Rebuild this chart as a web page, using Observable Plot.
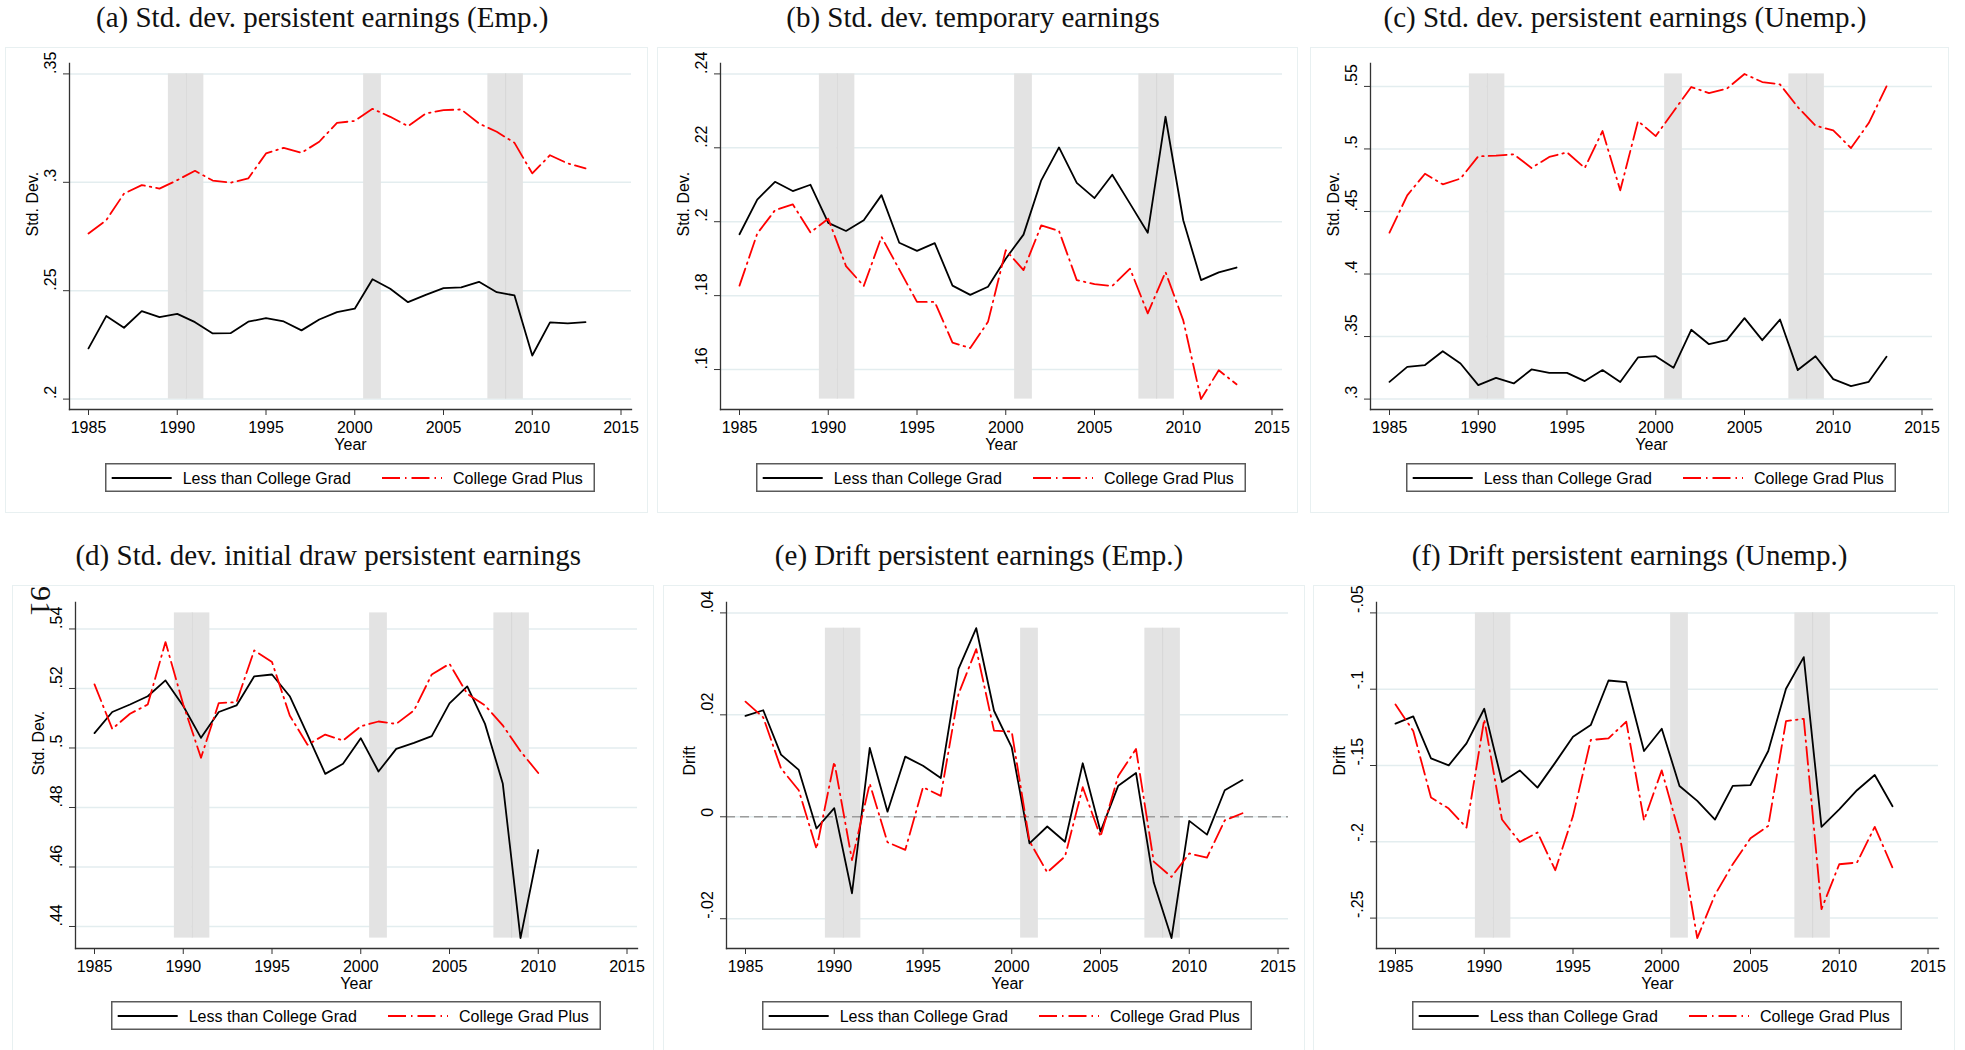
<!DOCTYPE html>
<html><head><meta charset="utf-8">
<script src="https://cdn.jsdelivr.net/npm/d3@7"></script>
<script src="https://cdn.jsdelivr.net/npm/@observablehq/plot@0.6"></script>
<style>
html,body{margin:0;padding:0;background:#fff;}
body{position:relative;width:1965px;height:1050px;overflow:hidden;font-family:"Liberation Sans",Arial,sans-serif;}
.box{position:absolute;border:1.5px solid #e8f0f1;box-sizing:border-box;background:#fff;}
.title{position:absolute;width:800px;text-align:center;font-family:"Liberation Serif","Times New Roman",serif;font-size:29px;line-height:29px;color:#111;white-space:nowrap;}
.pageno{position:absolute;font-family:"Liberation Serif","Times New Roman",serif;font-size:30px;line-height:30px;color:#111;transform-origin:center center;}
</style></head><body>
<script>
// ---- data ----
const yearsFull = [1985,1986,1987,1988,1989,1990,1991,1992,1993,1994,1995,1996,1997,1998,1999,2000,2001,2002,2003,2004,2005,2006,2007,2008,2009,2010,2011,2012,2013];
const yearsD = [1985,1986,1987,1988,1989,1990,1991,1992,1993,1994,1995,1996,1997,1998,1999,2000,2001,2002,2003,2004,2005,2006,2007,2008,2009,2010];
const recessionYears = [1990,1991,2001,2008,2009];
const xTicks = [1985,1990,1995,2000,2005,2010,2015];
const seriesNames = ["Less than College Grad","College Grad Plus"];

const aLess = [0.2234,0.2383,0.2329,0.2406,0.2378,0.2393,0.2355,0.2303,0.2304,0.2357,0.2373,0.2358,0.2317,0.2367,0.2401,0.2417,0.2553,0.2509,0.2447,0.2481,0.2512,0.2515,0.2541,0.2493,0.2478,0.2201,0.2354,0.2349,0.2355];
const aCollege = [0.2764,0.2825,0.2948,0.2987,0.2971,0.3010,0.3053,0.3008,0.2998,0.3018,0.3133,0.3159,0.3136,0.3187,0.3274,0.3283,0.3339,0.3302,0.3259,0.3317,0.3333,0.3336,0.3271,0.3233,0.3182,0.3041,0.3125,0.3087,0.3064];
const aTicks = [0.2,0.25,0.3,0.35];
const aTickLabels = [".2",".25",".3",".35"];

const bLess = [0.1966,0.2060,0.2108,0.2083,0.2100,0.1997,0.1975,0.2004,0.2072,0.1943,0.1921,0.1942,0.1827,0.1802,0.1824,0.1900,0.1965,0.2112,0.2201,0.2105,0.2064,0.2127,0.2049,0.1970,0.2284,0.2004,0.1842,0.1863,0.1876];
const bCollege = [0.1827,0.1968,0.2031,0.2047,0.1971,0.2008,0.1880,0.1826,0.1959,0.1871,0.1783,0.1783,0.1673,0.1658,0.1729,0.1923,0.1869,0.1990,0.1975,0.1842,0.1831,0.1826,0.1873,0.1752,0.1864,0.1733,0.1520,0.1598,0.1560];
const bTicks = [0.16,0.18,0.2,0.22,0.24];
const bTickLabels = [".16",".18",".2",".22",".24"];

const cLess = [0.3138,0.3258,0.3272,0.3383,0.3285,0.3112,0.3170,0.3125,0.3237,0.3210,0.3210,0.3144,0.3232,0.3136,0.3333,0.3343,0.3250,0.3554,0.3439,0.3471,0.3647,0.3471,0.3636,0.3232,0.3343,0.3160,0.3104,0.3138,0.3338];
const cCollege = [0.4331,0.4629,0.4802,0.4717,0.4763,0.4941,0.4946,0.4957,0.4848,0.4936,0.4973,0.4848,0.5143,0.4669,0.5223,0.5103,0.5300,0.5495,0.5447,0.5481,0.5599,0.5535,0.5516,0.5335,0.5186,0.5149,0.5007,0.5207,0.5500];
const cTicks = [0.3,0.35,0.4,0.45,0.5,0.55];
const cTickLabels = [".3",".35",".4",".45",".5",".55"];

const dLess = [0.5050,0.5121,0.5146,0.5174,0.5227,0.5141,0.5034,0.5121,0.5143,0.5241,0.5247,0.5174,0.5045,0.4913,0.4947,0.5033,0.4921,0.4997,0.5017,0.5040,0.5150,0.5207,0.5081,0.4881,0.4361,0.4657];
const dCollege = [0.5214,0.5064,0.5115,0.5146,0.5356,0.5146,0.4967,0.5151,0.5154,0.5328,0.5289,0.5109,0.5011,0.5045,0.5025,0.5073,0.5089,0.5081,0.5126,0.5247,0.5283,0.5182,0.5143,0.5076,0.4989,0.4916];
const dTicks = [0.44,0.46,0.48,0.5,0.52,0.54];
const dTickLabels = [".44",".46",".48",".5",".52",".54"];

const eLess = [0.0198,0.0209,0.0122,0.0092,-0.0023,0.0017,-0.0150,0.0135,0.0010,0.0118,0.0100,0.0076,0.0290,0.0370,0.0208,0.0136,-0.0052,-0.0019,-0.0049,0.0105,-0.0029,0.0061,0.0086,-0.0129,-0.0238,-0.0008,-0.0035,0.0052,0.0072];
const eCollege = [0.0226,0.0195,0.0095,0.0052,-0.0063,0.0108,-0.0085,0.0065,-0.0050,-0.0065,0.0058,0.0041,0.0241,0.0329,0.0169,0.0167,-0.0048,-0.0109,-0.0078,0.0058,-0.0039,0.0080,0.0133,-0.0088,-0.0118,-0.0072,-0.0080,-0.0007,0.0007];
const eTicks = [-0.02,0,0.02,0.04];
const eTickLabels = ["-.02","0",".02",".04"];

const fLess = [-0.1226,-0.1178,-0.1453,-0.1499,-0.1355,-0.1128,-0.1608,-0.1532,-0.1645,-0.1481,-0.1311,-0.1235,-0.0943,-0.0954,-0.1405,-0.1259,-0.1634,-0.1732,-0.1854,-0.1634,-0.1628,-0.1405,-0.0997,-0.0790,-0.1902,-0.1787,-0.1662,-0.1562,-0.1767];
const fCollege = [-0.1100,-0.1274,-0.1710,-0.1782,-0.1907,-0.1198,-0.1854,-0.2001,-0.1939,-0.2186,-0.1830,-0.1333,-0.1322,-0.1213,-0.1859,-0.1532,-0.1950,-0.2631,-0.2347,-0.2147,-0.1977,-0.1896,-0.1209,-0.1194,-0.2441,-0.2147,-0.2136,-0.1902,-0.2169];
const fTicks = [-0.25,-0.2,-0.15,-0.1,-0.05];
const fTickLabels = ["-.25","-.2","-.15","-.1","-.05"];

// ---- panel layout / config ----
const panels = [
  {title:"(a) Std. dev. persistent earnings (Emp.)", box:[5.4,47.3,642.6,465.7], frame:[69,63.3], years:yearsFull, less:aLess, college:aCollege, domain:[0.2,0.35], band:[0.2,0.35], ticks:aTicks, labels:aTickLabels, yLabel:"Std. Dev."},
  {title:"(b) Std. dev. temporary earnings", box:[657,47.3,641,465.7], frame:[719.7,63.3], years:yearsFull, less:bLess, college:bCollege, domain:[0.152,0.24], band:[0.152,0.24], ticks:bTicks, labels:bTickLabels, yLabel:"Std. Dev."},
  {title:"(c) Std. dev. persistent earnings (Unemp.)", box:[1310,47.3,639,465.7], frame:[1369.7,63.3], years:yearsFull, less:cLess, college:cCollege, domain:[0.3,0.56], band:[0.3,0.56], ticks:cTicks, labels:cTickLabels, yLabel:"Std. Dev."},
  {title:"(d) Std. dev. initial draw persistent earnings", box:[11.7,585,642,466], frame:[74.8,601.7], years:yearsD, less:dLess, college:dCollege, domain:[0.4361,0.5454], band:[0.4361,0.5454], ticks:dTicks, labels:dTickLabels, yLabel:"Std. Dev."},
  {title:"(e) Drift persistent earnings (Emp.)", box:[662.5,585,642,466], frame:[726,601.7], years:yearsFull, less:eLess, college:eCollege, domain:[-0.0238,0.04], band:[-0.0238,0.037], ticks:eTicks, labels:eTickLabels, yLabel:"Drift", zero:true},
  {title:"(f) Drift persistent earnings (Unemp.)", box:[1313,585,642,466], frame:[1375.6,601.7], years:yearsFull, less:fLess, college:fCollege, domain:[-0.2631,-0.05], band:[-0.2631,-0.05], ticks:fTicks, labels:fTickLabels, yLabel:"Drift"}
];

const FW = 562, FH = 346;          // frame size
const ML = 70, MR = 10, MT = 20, MB = 50;
const axisColor = "#333";
const redDash = "18,5,1.5,5";

function el(tag, cls, styles) {
  const e = document.createElement(tag);
  if (cls) e.className = cls;
  Object.assign(e.style, styles || {});
  return e;
}

panels.forEach(p => {
  const [bx, by, bw, bh] = p.box;
  const [fx, fy] = p.frame;
  document.body.appendChild(el("div", "box", {left: bx+"px", top: by+"px", width: bw+"px", height: bh+"px"}));

  const t = el("div", "title", {left: (bx + bw/2 - 4.5 - 400)+"px", top: (by - 20 - 24.3)+"px"});
  t.textContent = p.title;
  document.body.appendChild(t);

  const lessRows = p.years.map((yr, i) => ({year: yr, value: p.less[i]}));
  const collegeRows = p.years.map((yr, i) => ({year: yr, value: p.college[i]}));
  const dividers = recessionYears.filter(y => recessionYears.includes(y + 1));

  const svg = Plot.plot({
    width: ML + FW + MR, height: MT + FH + MB,
    marginLeft: ML, marginRight: MR, marginTop: MT, marginBottom: MB,
    x: {domain: [1985, 2015], insetLeft: 19, insetRight: 10.5, label: null},
    y: {domain: p.domain, insetTop: 10.4, insetBottom: 10.4, label: null},
    style: {fontFamily: "'Liberation Sans', Arial, sans-serif", fontSize: "16px", color: "#000", background: "transparent", overflow: "visible"},
    marks: [
      Plot.gridY(p.ticks, {stroke: "#e3edef", strokeOpacity: 1, strokeWidth: 1.5}),
      Plot.rect(recessionYears, {x1: d => d - 0.5, x2: d => d + 0.5, y1: () => p.band[0], y2: () => p.band[1], fill: "#e3e3e3"}),
      Plot.ruleX(dividers, {x: d => d + 0.5, y1: () => p.band[0], y2: () => p.band[1], stroke: "#d6d6d6", strokeWidth: 1}),
      p.zero ? Plot.ruleY([0], {stroke: "#9c9c9c", strokeWidth: 1.4, strokeDasharray: "9,5"}) : null,
      Plot.line(lessRows, {x: "year", y: "value", stroke: "#000", strokeWidth: 1.8}),
      Plot.line(collegeRows, {x: "year", y: "value", stroke: "#ff0000", strokeWidth: 1.8, strokeDasharray: redDash}),
      Plot.axisX({ticks: xTicks, tickSize: 6, tickPadding: 6, tickFormat: d => String(d), label: null, fontSize: 16, color: "#000", stroke: axisColor}),
      Plot.axisY({ticks: p.ticks, tickSize: 6, tickFormat: () => "", label: null, stroke: axisColor}),
      Plot.text(p.ticks, {y: d => d, text: (d, i) => p.labels[i], frameAnchor: "left", rotate: -90, dx: -19, fontSize: 16, fill: "#000"}),
      Plot.text([p.yLabel], {frameAnchor: "left", rotate: -90, dx: -37, fontSize: 16, fill: "#000"}),
      Plot.text(["Year"], {frameAnchor: "bottom", dy: 40, fontSize: 16, fill: "#000"}),
      Plot.frame({anchor: "left", stroke: axisColor, strokeWidth: 1.3}),
      Plot.frame({anchor: "bottom", stroke: axisColor, strokeWidth: 1.3})
    ]
  });
  Object.assign(svg.style, {position: "absolute", left: (fx - ML)+"px", top: (fy - MT)+"px"});
  document.body.appendChild(svg);

  // legend
  const lx = fx + 36, ly = fy + FH + 53.7;
  const ns = "http://www.w3.org/2000/svg";
  const lg = document.createElementNS(ns, "svg");
  lg.setAttribute("width", 490); lg.setAttribute("height", 29);
  Object.assign(lg.style, {position: "absolute", left: lx+"px", top: ly+"px", overflow: "visible"});
  lg.innerHTML =
    `<rect x="0.75" y="0.75" width="488.5" height="27.5" fill="#fff" stroke="#5a5a5a" stroke-width="1.5"/>` +
    `<line x1="6.7" x2="66.7" y1="15" y2="15" stroke="#000" stroke-width="1.8"/>` +
    `<text x="77.7" y="20.6" font-family="Liberation Sans, Arial, sans-serif" font-size="16" fill="#000">${seriesNames[0]}</text>` +
    `<line x1="277" x2="337" y1="15" y2="15" stroke="#ff0000" stroke-width="1.8" stroke-dasharray="${redDash}"/>` +
    `<text x="348" y="20.6" font-family="Liberation Sans, Arial, sans-serif" font-size="16" fill="#000">${seriesNames[1]}</text>`;
  document.body.appendChild(lg);
});

// page number printed rotated in the margin
const pn = el("div", "pageno", {left: "26px", top: "586px", transform: "rotate(90deg)"});
pn.textContent = "91";
document.body.appendChild(pn);
</script>
</body></html>
